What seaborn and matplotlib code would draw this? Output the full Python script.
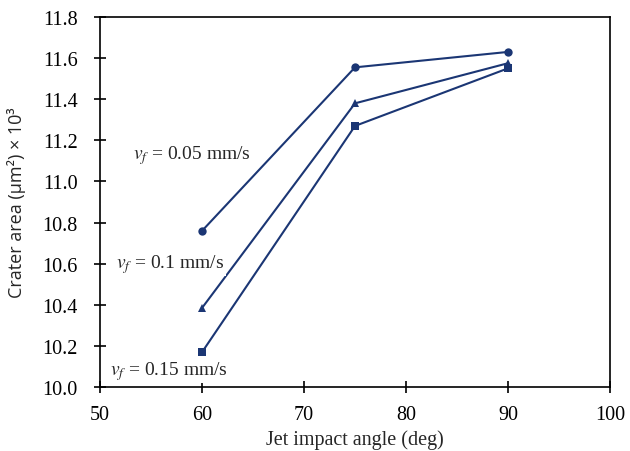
import matplotlib
matplotlib.use("Agg")
import matplotlib.pyplot as plt
import seaborn as sns
import pandas as pd

angles = [60, 75, 90]
area_005 = [10.76, 11.555, 11.63]
area_010 = [10.385, 11.38, 11.575]
area_015 = [10.17, 11.27, 11.55]
feeds = ["0.05", "0.1", "0.15"]

rows = []
for vf, vals in zip(feeds, [area_005, area_010, area_015]):
    for a, v in zip(angles, vals):
        rows.append({"angle": a, "area": v, "vf": vf})
df = pd.DataFrame(rows)

sns.set_style("white")
plt.rcParams["font.family"] = ["Liberation Serif", "DejaVu Serif"]
plt.rcParams["mathtext.fontset"] = "stix"

navy = "#1b3674"
fig = plt.figure(figsize=(6.3, 4.52), dpi=100)
ax = fig.add_axes([0.159, 0.1416, 0.809, 0.8186])

sns.lineplot(data=df, x="angle", y="area", hue="vf", style="vf",
             markers=["o", "^", "s"], dashes=False,
             palette=[navy] * 3, markersize=6, markeredgewidth=0,
             linewidth=1.5, legend=False, ax=ax)

ax.set_xlim(50, 100)
ax.set_ylim(10.0, 11.8)
ax.set_xticks(range(50, 101, 10))
ax.set_yticks([10.0 + 0.2 * i for i in range(10)])
ax.set_yticklabels([f"{10.0 + 0.2 * i:.1f}" for i in range(10)])
ax.tick_params(direction="inout", length=8, width=1.2, labelsize=14.5,
               left=True, bottom=True, colors="black")
ax.tick_params(axis="y", pad=12)
ax.tick_params(axis="x", pad=9)
for s in ax.spines.values():
    s.set_color("black")
    s.set_linewidth(1.2)

ax.set_xlabel("Jet impact angle (deg)", fontsize=14.5, labelpad=4)
ax.set_ylabel("Crater area (\u03bcm\u00b2) \u00d7 10\u00b3", fontsize=13,
              family=["Open Sans", "DejaVu Sans"], labelpad=12)

labels = [(53.2, 11.13, r"$v_f$ = 0.05 mm/s"),
          (51.6, 10.60, r"$v_f$ = 0.1 mm/s"),
          (51.0, 10.08, r"$v_f$ = 0.15 mm/s")]
for x, y, t in labels:
    ax.text(x, y, t, fontsize=14, va="center", ha="left",
            bbox=dict(facecolor="white", edgecolor="none", pad=1))

fig.savefig("out.png", dpi=100)
